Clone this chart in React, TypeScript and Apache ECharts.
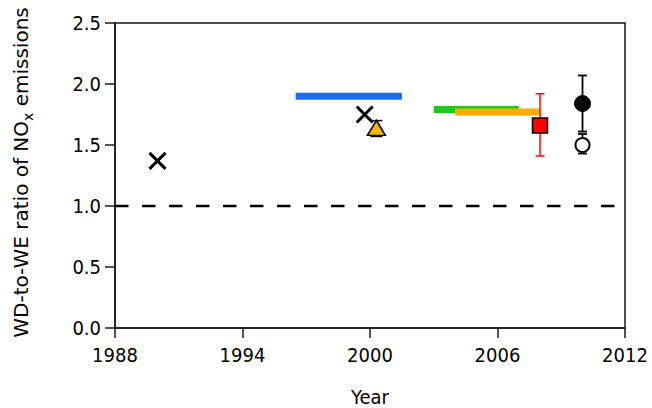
import React, { useEffect, useRef } from "react";
import * as echarts from "echarts";

// ---- data (years, values) ----
const BASE_YEAR = 1988;
const xTickMin = 1988;
const xTickMax = 2012;
const xTickStep = 6;
const yTickMin = 0;
const yTickMax = 2.5;
const yTickStep = 0.5;

// cross markers
const crossYears = [1990, 1999.75];
const crossValues = [1.37, 1.75];

// horizontal period bars
const barNames = ["blue", "green", "orange"];
const barStartYears = [1996.5, 2003, 2004];
const barEndYears = [2001.5, 2007, 2008];
const barValues = [1.9, 1.79, 1.77];
const barColors = ["#1a6cf5", "#1ec81e", "#ffad00"];

// point estimates with error bars
const triangleYear = [2000.3];
const triangleValue = [1.64];
const triangleLow = [1.57];
const triangleHigh = [1.7];

const squareYear = [2008];
const squareValue = [1.66];
const squareLow = [1.41];
const squareHigh = [1.92];

const filledCircleYear = [2010];
const filledCircleValue = [1.84];
const filledCircleLow = [1.61];
const filledCircleHigh = [2.07];

const openCircleYear = [2010];
const openCircleValue = [1.5];
const openCircleLow = [1.43];
const openCircleHigh = [1.59];

const refLineValue = 1.0;

const FONT = "'DejaVu Sans Condensed', 'DejaVu Sans', Tahoma, sans-serif";
const TITLE_FONT = "'DejaVu Sans', Tahoma, sans-serif";

const off = (y: number) => y - BASE_YEAR;

function errorSeries(
  years: number[],
  lows: number[],
  highs: number[],
  color: string,
  halfCap: number,
  width: number
) {
  return {
    type: "custom",
    z: 3,
    silent: true,
    data: years.map((y, i) => [off(y), lows[i], highs[i]]),
    renderItem: (params: any, api: any) => {
      const x = api.value(0);
      const lo = api.coord([x, api.value(1)]);
      const hi = api.coord([x, api.value(2)]);
      const style = { stroke: color, lineWidth: width };
      return {
        type: "group",
        children: [
          { type: "line", shape: { x1: lo[0], y1: lo[1], x2: hi[0], y2: hi[1] }, style },
          { type: "line", shape: { x1: lo[0] - halfCap, y1: lo[1], x2: lo[0] + halfCap, y2: lo[1] }, style },
          { type: "line", shape: { x1: hi[0] - halfCap, y1: hi[1], x2: hi[0] + halfCap, y2: hi[1] }, style },
        ],
      };
    },
  };
}

export default function App() {
  const ref = useRef<HTMLDivElement>(null);
  useEffect(() => {
    if (!ref.current) return;
    const chart = echarts.init(ref.current, null, { renderer: "svg" });
    const axisColor = "#1a1a1a";
    const barSeries = barNames.map((name, i) => ({
      type: "line",
      name,
      z: 2 + i * 0.1,
      symbol: "none",
      silent: true,
      lineStyle: { color: barColors[i], width: 7, cap: "butt", opacity: 1 },
      data: [
        [off(barStartYears[i]), barValues[i]],
        [off(barEndYears[i]), barValues[i]],
      ],
    }));
    chart.setOption({
      animation: false,
      grid: {
        left: 115,
        right: 27,
        top: 23,
        bottom: 80,
        containLabel: false,
        outerBoundsMode: "none",
        show: true,
        borderColor: axisColor,
        borderWidth: 1.5,
        backgroundColor: "transparent",
      },
      xAxis: {
        type: "value",
        min: off(xTickMin),
        max: off(xTickMax),
        interval: xTickStep,
        name: "Year",
        nameLocation: "middle",
        nameGap: 59,
        nameTextStyle: { fontFamily: FONT, fontSize: 20, color: "#000" },
        axisLine: { show: true, lineStyle: { color: axisColor, width: 1.5 } },
        axisTick: { show: true, inside: false, length: 10, lineStyle: { color: axisColor, width: 1.5 } },
        axisLabel: {
          fontFamily: FONT,
          fontSize: 20,
          color: "#000",
          margin: 17,
          formatter: (v: number) => String(v + BASE_YEAR),
        },
        splitLine: { show: false },
      },
      yAxis: {
        type: "value",
        min: yTickMin,
        max: yTickMax,
        interval: yTickStep,
        name: "{t|WD-to-WE ratio of NO}{s|x}{t| emissions}",
        nameLocation: "middle",
        nameGap: 80,
        nameRotate: 90,
        nameTextStyle: {
          fontFamily: TITLE_FONT,
          fontSize: 20,
          color: "#000",
          padding: [0, 0, 0, 6],
          rich: {
            t: { fontFamily: TITLE_FONT, fontSize: 20, color: "#000", lineHeight: 24, verticalAlign: "top" },
            s: { fontFamily: TITLE_FONT, fontSize: 14, color: "#000", lineHeight: 14, verticalAlign: "bottom" },
          },
        },
        axisLine: { show: true, lineStyle: { color: axisColor, width: 1.5 } },
        axisTick: { show: true, inside: false, length: 10, lineStyle: { color: axisColor, width: 1.5 } },
        axisLabel: {
          fontFamily: FONT,
          fontSize: 20,
          color: "#000",
          margin: 14,
          formatter: (v: number) => v.toFixed(1),
        },
        splitLine: { show: false },
      },
      series: [
        {
          type: "line",
          name: "reference",
          symbol: "none",
          silent: true,
          z: 1,
          lineStyle: { color: "#000", width: 2.5, type: [13.5, 13.5], opacity: 1 },
          data: [
            [off(xTickMin), refLineValue],
            [off(xTickMax), refLineValue],
          ],
        },
        ...barSeries,
        errorSeries(triangleYear, triangleLow, triangleHigh, "#000", 6, 1.5),
        errorSeries(squareYear, squareLow, squareHigh, "#ff0000", 4.5, 1.5),
        errorSeries(filledCircleYear, filledCircleLow, filledCircleHigh, "#000", 4.5, 1.8),
        errorSeries(openCircleYear, openCircleLow, openCircleHigh, "#000", 4.5, 1.8),
        {
          type: "scatter",
          name: "cross",
          z: 4,
          symbol: "path://M0,0L10,10M10,0L0,10",
          symbolSize: 16,
          itemStyle: { color: "none", borderColor: "#000", borderWidth: 3, opacity: 1 },
          data: crossYears.map((y, i) => [off(y), crossValues[i]]),
        },
        {
          type: "scatter",
          name: "triangle",
          z: 5,
          symbol: "triangle",
          symbolSize: [18, 15],
          itemStyle: { color: "#f7b500", borderColor: "#000", borderWidth: 1.5, opacity: 1 },
          data: triangleYear.map((y, i) => [off(y), triangleValue[i]]),
        },
        {
          type: "scatter",
          name: "square",
          z: 5,
          symbol: "rect",
          symbolSize: 15,
          itemStyle: { color: "#ff0000", borderColor: "#000", borderWidth: 1.5, opacity: 1 },
          data: squareYear.map((y, i) => [off(y), squareValue[i]]),
        },
        {
          type: "scatter",
          name: "filledCircle",
          z: 5,
          symbol: "circle",
          symbolSize: 16,
          itemStyle: { color: "#000", borderColor: "#000", borderWidth: 1, opacity: 1 },
          data: filledCircleYear.map((y, i) => [off(y), filledCircleValue[i]]),
        },
        {
          type: "scatter",
          name: "openCircle",
          z: 5,
          symbol: "circle",
          symbolSize: 14,
          itemStyle: { color: "#fff", borderColor: "#000", borderWidth: 2, opacity: 1 },
          data: openCircleYear.map((y, i) => [off(y), openCircleValue[i]]),
        },
      ],
    });
    return () => chart.dispose();
  }, []);
  return (
    <div
      ref={ref}
      style={{ position: "absolute", left: 0, top: 0, width: 652, height: 408 }}
    />
  );
}
